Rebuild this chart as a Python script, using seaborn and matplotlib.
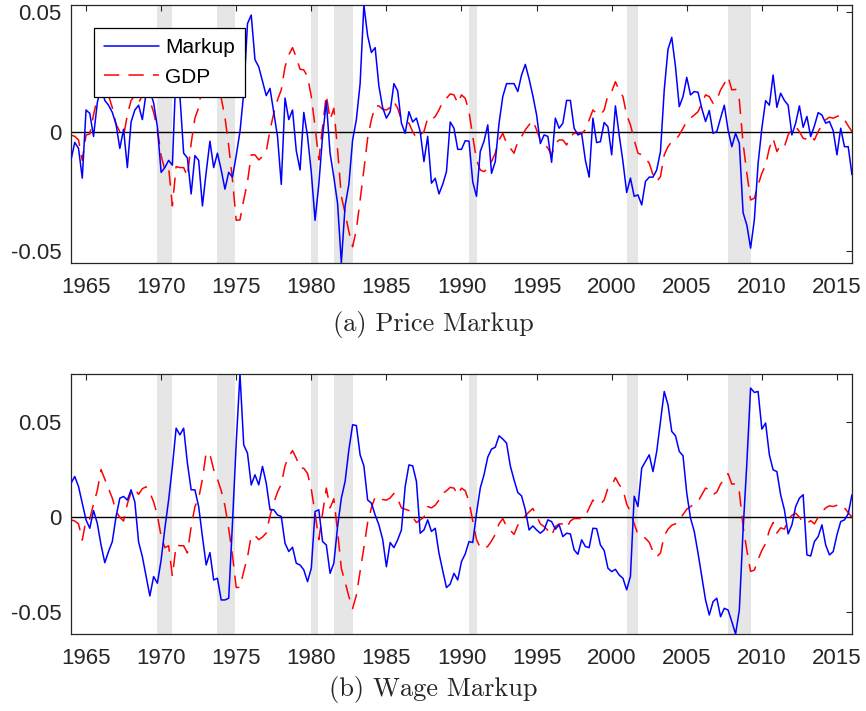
import numpy as np
import pandas as pd
import matplotlib
matplotlib.use("Agg")
import matplotlib.pyplot as plt
import seaborn as sns

# ===============================
# Data (quarterly, 1964Q1 - 2016Q1)
# ===============================
start_year = 1964

price_markup = [
    -0.0118, -0.0045, -0.007, -0.0194, 0.009, 0.0076, -0.002, 0.012, 0.019, 0.013,
    0.011, 0.008, 0.003, -0.007, 0.001, -0.015, 0.004, 0.009, 0.011, 0.005,
    0.016, 0.017, 0.012, 0.002, -0.017, -0.015, -0.012, -0.014, 0.027, 0.015,
    -0.009, -0.011, -0.026, -0.010, -0.012, -0.031, -0.017, -0.004, -0.015, -0.009,
    -0.016, -0.024, -0.017, -0.019, -0.010, 0.000, 0.016, 0.045, 0.0486, 0.030,
    0.027, 0.021, 0.015, 0.018, 0.008, -0.002, -0.022, 0.014, 0.005, 0.009,
    -0.008, -0.016, 0.008, -0.002, -0.017, -0.037, -0.022, -0.002, 0.0125, -0.009,
    -0.019, -0.030, -0.0548, -0.031, -0.022, -0.0035, 0.005, 0.020, 0.0528, 0.040,
    0.033, 0.035, 0.019, 0.010, 0.0056, 0.0083, 0.020, 0.017, 0.0035, -0.0007,
    0.0083, 0.004, 0.0056, 0.0, -0.0125, -0.002, -0.0215, -0.0195, -0.026, -0.022,
    -0.0167, 0.004, 0.0014, -0.0074, -0.0074, -0.0038, -0.004, -0.021, -0.027, -0.0083,
    -0.004, 0.0028, -0.0174, -0.0125, 0.0035, 0.0146, 0.020, 0.020, 0.020, 0.0167,
    0.0236, 0.028, 0.022, 0.015, 0.007, -0.005, -0.0014, -0.002, -0.0128, 0.0056,
    0.0014, 0.0035, 0.013, 0.013, 0.0014, -0.0014, -0.0007, -0.012, -0.019, 0.0056,
    -0.0046, -0.0042, 0.0038, 0.002, -0.0097, 0.0107, -0.0014, -0.0125, -0.0254, -0.0194,
    -0.027, -0.0264, -0.0306, -0.0208, -0.019, -0.019, -0.016, -0.0083, 0.0174, 0.0343,
    0.0393, 0.027, 0.0104, 0.0146, 0.0226, 0.0153, 0.0167, 0.0164, 0.0097, 0.0042,
    0.0088, -0.0007, 0.0, 0.0056, 0.011, 0.0007, -0.0063, -0.0007, -0.0049, -0.0338,
    -0.039, -0.0486, -0.0368, -0.0132, 0.0014, 0.0129, 0.011, 0.0236, 0.0101, 0.016,
    0.013, 0.011, -0.0014, 0.0035, 0.0107, 0.0018, 0.0063, -0.0021, 0.0024, 0.0079,
    0.0069, 0.0035, 0.0042, 0.0004, -0.0097, 0.0014, -0.0063, -0.0063, -0.018,
]

wage_markup = [
    0.0179, 0.0214, 0.0161, 0.0074, -0.0014, -0.0058, 0.0035, -0.0032, -0.0146, -0.0239,
    -0.018, -0.0128, 0.0004, 0.010, 0.0109, 0.009, 0.0144, 0.008, -0.013, -0.0207,
    -0.0312, -0.0414, -0.0312, -0.0347, -0.0225, -0.0058, 0.0091, 0.0267, 0.0468, 0.0433,
    0.0468, 0.0284, 0.0144, 0.0144, 0.0056, -0.0102, -0.0251, -0.0186, -0.033, -0.0321,
    -0.0435, -0.0435, -0.0426, -0.0032, 0.039, 0.0753, 0.038, 0.0337, 0.017, 0.0223,
    0.017, 0.0267, 0.0179, 0.0039, 0.0039, 0.0012, 0.0004, -0.0137, -0.018, -0.0158,
    -0.0242, -0.0251, -0.0277, -0.0339, -0.0268, 0.003, 0.0039, -0.0128, -0.0146, -0.0295,
    -0.0242, -0.0049, 0.010, 0.0188, 0.0354, 0.0486, 0.0482, 0.0328, 0.027, 0.0091,
    0.0074, 0.0012, -0.004, -0.0116, -0.026, -0.0133, -0.016, -0.0119, -0.0067, 0.0161,
    0.0275, 0.027, 0.0188, -0.0084, -0.0067, -0.0014, -0.0075, -0.0058, -0.0189, -0.0281,
    -0.037, -0.0351, -0.0295, -0.033, -0.0233, -0.0193, -0.0128, -0.0133, 0.0021, 0.0153,
    0.0223, 0.0316, 0.0358, 0.0368, 0.0428, 0.0411, 0.039, 0.027, 0.0196, 0.013,
    0.0112, 0.0039, -0.0067, -0.0046, -0.0067, -0.0084, -0.0067, -0.0014, -0.0023, -0.0063,
    -0.004, -0.0102, -0.0084, -0.0088, -0.0172, -0.0195, -0.0119, -0.0154, -0.016, -0.0058,
    -0.006, -0.0146, -0.0175, -0.0268, -0.0286, -0.0274, -0.0304, -0.0321, -0.0382, -0.031,
    0.011, 0.0056, 0.0258, 0.0293, 0.0328, 0.024, 0.0346, 0.0504, 0.0661, 0.0591,
    0.0451, 0.0428, 0.0346, 0.0323, 0.0126, -0.0005, -0.0075, -0.0189, -0.0312, -0.0435,
    -0.0514, -0.0444, -0.0426, -0.0523, -0.0479, -0.0488, -0.0549, -0.0614, -0.0488, -0.0067,
    0.0284, 0.0679, 0.0656, 0.0661, 0.0463, 0.0495, 0.0328, 0.0249, 0.024, 0.0118,
    0.0039, -0.0088, -0.004, 0.0056, 0.010, 0.0118, -0.0198, -0.0204, -0.0128, -0.0102,
    -0.004, -0.0146, -0.0198, -0.0181, -0.0093, -0.0023, -0.0014, 0.0018, 0.0118,
]

gdp = [
    -0.0014, -0.002, -0.0035, -0.012, -0.0014, -0.001, 0.007, 0.014, 0.025, 0.020,
    0.015, 0.010, 0.003, 0.000, -0.002, 0.007, 0.013, 0.015, 0.012, 0.015,
    0.016, 0.013, 0.008, 0.001, -0.010, -0.016, -0.015, -0.031, -0.0146, -0.015,
    -0.015, -0.0188, -0.0049, 0.0056, 0.010, 0.020, 0.034, 0.033, 0.025, 0.020,
    0.014, 0.006, -0.006, -0.020, -0.037, -0.0368, -0.0285, -0.021, -0.0097, -0.0097,
    -0.0118, -0.0104, -0.0083, 0.0007, 0.0076, 0.0132, 0.0174, 0.027, 0.032, 0.035,
    0.031, 0.026, 0.0257, 0.023, 0.0146, 0.002, -0.0118, 0.002, 0.0153, 0.0049,
    0.0097, -0.0076, -0.027, -0.034, -0.0417, -0.048, -0.041, -0.0285, -0.016, -0.0028,
    0.0049, 0.0107, 0.0107, 0.0093, 0.009, 0.0101, 0.0125, 0.0097, 0.0049, 0.0042,
    0.0035, 0.0, -0.0028, -0.0014, 0.0, 0.0056, 0.0049, 0.0063, 0.009, 0.0125,
    0.0139, 0.0157, 0.0153, 0.0118, 0.0153, 0.0139, 0.0083, -0.002, -0.0118, -0.016,
    -0.0167, -0.0153, -0.0125, -0.009, -0.0035, -0.0007, -0.0049, -0.0069, -0.009, -0.0042,
    -0.002, 0.0007, 0.0028, 0.0046, 0.0007, -0.0035, -0.0049, -0.0069, -0.0097, -0.0049,
    -0.0035, -0.0035, -0.0056, -0.002, -0.0007, -0.0007, -0.0007, 0.0007, 0.0049, 0.009,
    0.0076, 0.0069, 0.009, 0.0153, 0.0167, 0.0208, 0.0171, 0.0146, 0.0069, 0.0028,
    -0.0035, -0.009, -0.0097, -0.0111, -0.0132, -0.018, -0.0208, -0.0188, -0.0097, -0.0063,
    -0.0042, -0.0035, -0.0014, 0.0014, 0.0042, 0.0056, 0.0069, 0.0083, 0.0118, 0.0153,
    0.0146, 0.0118, 0.0132, 0.0174, 0.020, 0.0229, 0.0174, 0.0176, 0.0132, -0.0049,
    -0.0174, -0.0285, -0.0278, -0.0222, -0.0174, -0.0139, -0.0069, -0.0028, -0.0083, -0.0056,
    -0.0063, -0.0014, 0.001, 0.0021, 0.0, -0.0028, -0.0032, -0.0018, -0.0035, 0.0,
    0.0028, 0.0049, 0.006, 0.0056, 0.0063, 0.0069, 0.0049, 0.0024, 0.0,
]

# NBER recessions (start, end), in years
recession_start = [1969.75, 1973.75, 1980.0, 1981.5, 1990.5, 2001.0, 2007.75]
recession_end = [1970.75, 1974.95, 1980.45, 1982.75, 1991.0, 2001.75, 2009.25]

x_ticks = [1965, 1970, 1975, 1980, 1985, 1990, 1995, 2000, 2005, 2010, 2015]
y_ticks = [-0.05, 0, 0.05]
y_tick_labels = ["-0.05", "0", "0.05"]
captions = ["(a) Price Markup", "(b) Wage Markup"]
series_labels = ["Markup", "GDP"]

n = len(gdp)
years = start_year + np.arange(n) / 4.0
df = pd.DataFrame({"year": years, "price": price_markup, "wage": wage_markup, "gdp": gdp})

# ===============================
# Style
# ===============================
sns.set_theme(style="white")
plt.rcParams["font.family"] = ["Liberation Sans", "DejaVu Sans"]
plt.rcParams["axes.unicode_minus"] = False
dark = (0.15, 0.15, 0.15)

fig = plt.figure(figsize=(8.66, 7.11), dpi=100)
ax_top = fig.add_axes([0.0820, 0.6301, 0.9018, 0.3629])
ax_bot = fig.add_axes([0.0820, 0.1083, 0.9018, 0.3657])

panels = [(ax_top, "price", (-0.0548, 0.0528)), (ax_bot, "wage", (-0.0614, 0.0753))]

for ax, col, ylim in panels:
    for s, e in zip(recession_start, recession_end):
        ax.axvspan(s, e, color=(0.9, 0.9, 0.9), lw=0, zorder=0)
    ax.axhline(0, color="black", lw=1.0, zorder=1)
    sns.lineplot(data=df, x="year", y=col, ax=ax, color="blue", lw=1.1,
                 estimator=None, zorder=3, label=series_labels[0], legend=False)
    sns.lineplot(data=df, x="year", y="gdp", ax=ax, color="red", lw=1.1,
                 estimator=None, zorder=2, label=series_labels[1], legend=False)
    ax.lines[-1].set_dashes((10, 6))
    ax.set_xlim(years[0], years[-1])
    ax.set_ylim(*ylim)
    ax.set_xticks(x_ticks)
    ax.set_yticks(y_ticks)
    ax.set_yticklabels(y_tick_labels)
    ax.set_xlabel("")
    ax.set_ylabel("")
    ax.tick_params(direction="in", top=True, right=True, length=4, width=0.8,
                   color=dark, labelcolor=dark, labelsize=16)
    ax.tick_params(axis="x", pad=10)
    ax.tick_params(axis="y", pad=7)
    for sp in ax.spines.values():
        sp.set_color(dark)
        sp.set_linewidth(0.9)
    ax.grid(False)

leg = ax_top.legend(handles=ax_top.lines[1:3], labels=series_labels,
                    loc="upper left", bbox_to_anchor=(0.0294, 0.911), borderaxespad=0,
                    fontsize=15, frameon=True, fancybox=False, framealpha=1,
                    edgecolor="black", handlelength=2.6, labelspacing=0.5,
                    borderpad=0.5, handletextpad=0.3)
leg.get_frame().set_linewidth(0.9)
for t in leg.get_texts():
    t.set_color("black")

fig.text(0.5, 0.543, captions[0], ha="center", va="center", fontsize=19, family="cmr10")
fig.text(0.5, 0.030, captions[1], ha="center", va="center", fontsize=19, family="cmr10")

plt.savefig("out.png", dpi=100)
